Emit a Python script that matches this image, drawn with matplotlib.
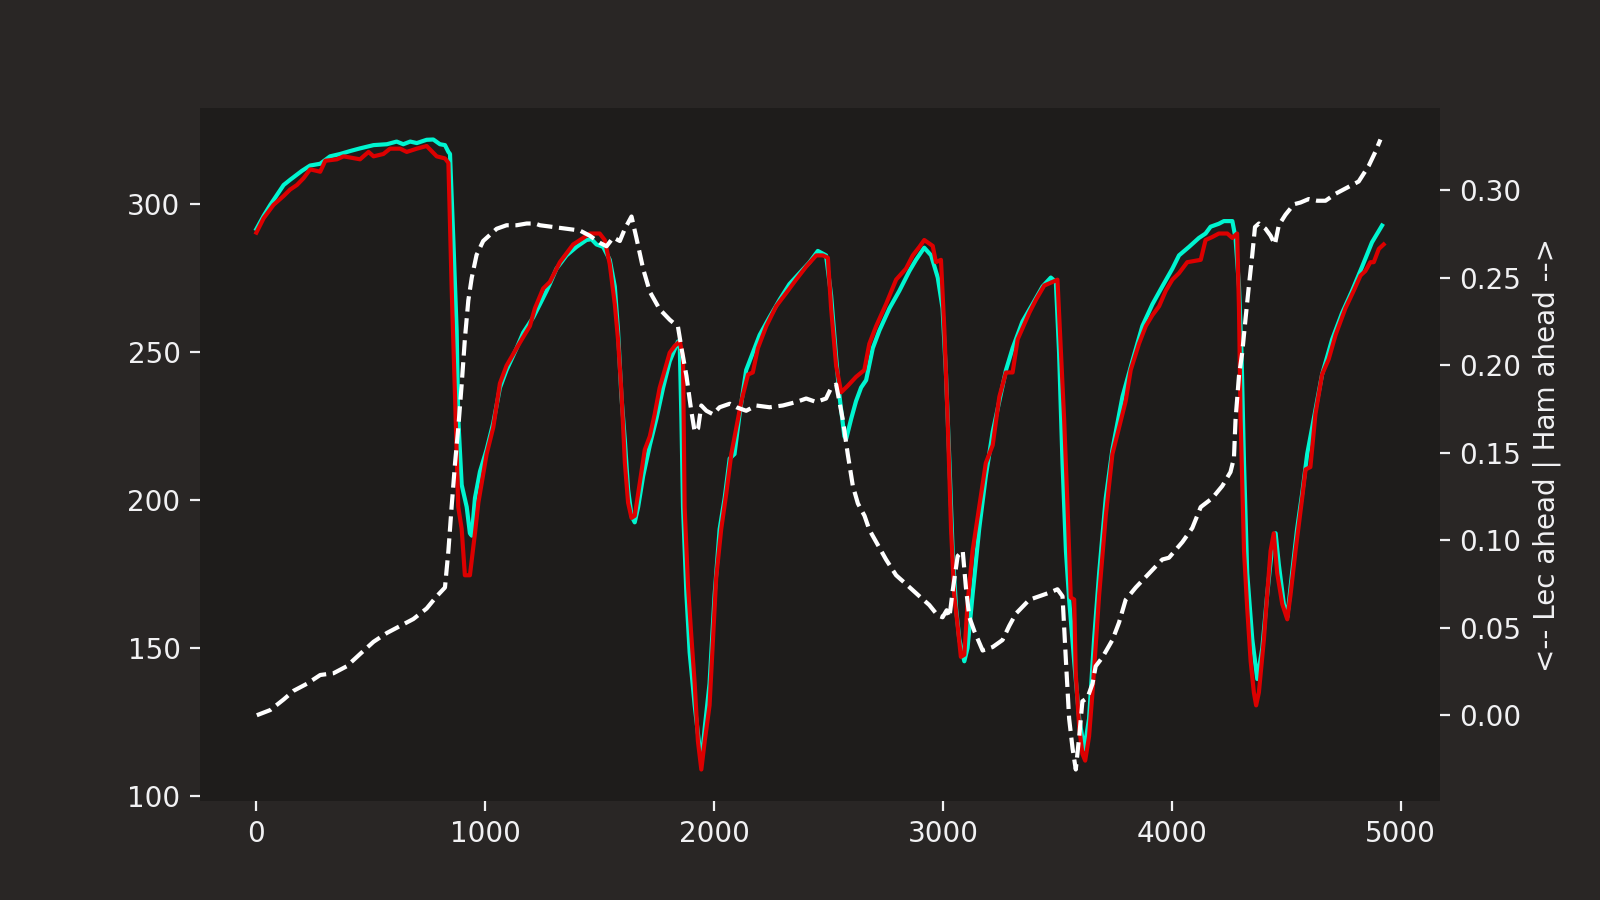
import matplotlib
matplotlib.use('Agg')
import matplotlib.pyplot as plt

# speed traces (distance in m, speed in km/h)
ham_dist = [0, 32, 61, 119, 148, 199, 235, 279, 322, 366, 410, 453, 512, 570, 613, 642, 672, 701,
            744, 773, 802, 824, 839, 846, 861, 875, 882, 897, 919, 933, 941, 955, 977, 1006, 1035,
            1064, 1093, 1137, 1166, 1210, 1239, 1268, 1282, 1311, 1355, 1399, 1442, 1464, 1486,
            1515, 1544, 1566, 1580, 1595, 1610, 1624, 1639, 1653, 1668, 1690, 1719, 1748, 1777,
            1806, 1842, 1850, 1857, 1864, 1879, 1893, 1915, 1937, 1944, 1959, 1980, 2002, 2024,
            2046, 2068, 2089, 2111, 2140, 2169, 2199, 2242, 2286, 2329, 2373, 2417, 2453, 2489,
            2511, 2533, 2548, 2569, 2577, 2599, 2620, 2642, 2664, 2693, 2722, 2766, 2809, 2853,
            2882, 2918, 2948, 2977, 2998, 3013, 3028, 3042, 3057, 3071, 3093, 3107, 3129, 3158,
            3187, 3217, 3246, 3275, 3304, 3347, 3391, 3435, 3471, 3493, 3507, 3522, 3537, 3551,
            3573, 3595, 3617, 3638, 3660, 3682, 3711, 3740, 3784, 3827, 3871, 3915, 3958, 4002,
            4031, 4075, 4118, 4147, 4169, 4205, 4227, 4264, 4278, 4293, 4304, 4315, 4329, 4351,
            4373, 4395, 4416, 4438, 4453, 4467, 4489, 4504, 4525, 4547, 4569, 4591, 4620, 4656,
            4700, 4744, 4787, 4831, 4874, 4918]
ham_speed = [291.6, 296.1, 299.8, 306.5, 308.3, 311.3, 313.1, 313.7, 316.2, 317.0, 318.0, 318.9,
             320.0, 320.3, 321.2, 320.3, 321.2, 320.7, 321.8, 321.9, 320.3, 320.0, 317.7, 317.0,
             287.1, 257.3, 227.5, 205.1, 197.6, 188.7, 187.9, 200.6, 209.6, 217.0, 226.0, 237.9,
             243.9, 251.3, 256.6, 261.8, 266.2, 270.7, 273.0, 278.2, 282.7, 285.6, 287.9, 288.2,
             286.4, 285.6, 281.2, 272.2, 257.3, 234.9, 220.0, 203.6, 194.6, 192.4, 197.6, 208.1,
             218.5, 227.5, 237.9, 246.9, 253.6, 251.3, 227.5, 197.6, 167.8, 148.4, 130.5, 115.6,
             111.1, 123.0, 137.9, 167.8, 190.1, 200.6, 214.0, 215.5, 228.9, 243.9, 249.8, 255.8,
             261.8, 267.7, 273.0, 276.7, 280.4, 284.2, 282.7, 269.2, 248.3, 234.9, 221.5, 220.7,
             227.5, 233.4, 238.0, 240.5, 251.3, 257.3, 264.8, 270.7, 277.4, 281.2, 285.3, 282.7,
             275.2, 264.8, 242.4, 212.5, 182.7, 163.3, 152.9, 145.4, 149.9, 167.8, 190.2, 208.1,
             223.0, 233.4, 243.9, 251.3, 260.3, 266.2, 272.2, 275.2, 273.7, 249.8, 212.5, 182.7,
             166.3, 145.4, 126.0, 115.6, 126.0, 152.9, 175.2, 200.6, 217.0, 234.9, 246.9, 258.8,
             266.2, 272.2, 278.2, 282.7, 285.6, 288.6, 290.1, 292.4, 293.4, 294.3, 294.3, 288.6,
             272.2, 249.8, 212.5, 175.2, 152.9, 139.4, 149.9, 167.8, 184.2, 188.7, 178.2, 164.8,
             160.3, 175.2, 190.2, 202.1, 215.5, 227.5, 242.4, 254.3, 263.3, 270.7, 278.9, 287.1,
             292.8]

lec_dist = [0, 32, 75, 119, 148, 177, 206, 235, 279, 301, 352, 381, 410, 453, 490, 512, 555, 584,
            628, 657, 701, 744, 788, 824, 839, 853, 868, 882, 897, 911, 933, 955, 970, 1006, 1035,
            1064, 1093, 1137, 1166, 1195, 1217, 1253, 1282, 1326, 1384, 1428, 1457, 1500, 1522,
            1544, 1566, 1580, 1595, 1610, 1624, 1639, 1653, 1668, 1697, 1719, 1740, 1762, 1784,
            1806, 1828, 1850, 1864, 1871, 1886, 1900, 1915, 1929, 1944, 1959, 1980, 1995, 2009,
            2031, 2053, 2075, 2097, 2119, 2148, 2169, 2191, 2228, 2271, 2315, 2358, 2402, 2446,
            2475, 2497, 2511, 2533, 2555, 2584, 2620, 2656, 2678, 2708, 2751, 2795, 2838, 2868,
            2897, 2918, 2955, 2969, 2991, 3006, 3020, 3035, 3049, 3064, 3078, 3093, 3107, 3129,
            3158, 3187, 3217, 3246, 3275, 3304, 3326, 3347, 3377, 3406, 3442, 3478, 3500, 3515,
            3529, 3544, 3558, 3573, 3580, 3595, 3609, 3621, 3638, 3653, 3682, 3711, 3740, 3769,
            3798, 3820, 3856, 3886, 3915, 3944, 3973, 4002, 4031, 4067, 4126, 4147, 4176, 4205,
            4242, 4264, 4285, 4293, 4300, 4315, 4329, 4344, 4358, 4368, 4380, 4402, 4416, 4431,
            4445, 4460, 4482, 4504, 4518, 4540, 4569, 4584, 4605, 4627, 4656, 4685, 4715, 4758,
            4794, 4824, 4845, 4867, 4882, 4904, 4925]
lec_speed = [290.4, 295.3, 299.8, 302.8, 305.0, 306.5, 308.8, 311.8, 311.0, 314.7, 315.2, 316.2,
             315.8, 315.2, 317.7, 316.2, 317.0, 318.8, 318.8, 317.7, 318.8, 319.7, 316.2, 315.5,
             314.0, 272.2, 234.9, 197.6, 190.2, 174.5, 174.5, 188.7, 199.1, 215.5, 224.5, 239.4,
             245.4, 251.3, 255.1, 258.8, 264.8, 271.5, 273.7, 280.4, 286.4, 288.6, 290.1, 290.1,
             287.9, 279.7, 266.2, 254.3, 236.4, 212.5, 199.1, 193.9, 194.6, 202.1, 217.0, 221.5,
             228.9, 237.9, 243.9, 249.8, 252.1, 253.6, 248.3, 197.6, 170.8, 154.3, 137.9, 118.5,
             108.8, 118.5, 130.5, 152.9, 173.7, 190.2, 202.1, 215.5, 224.5, 233.4, 242.4, 243.1,
             251.3, 258.8, 265.5, 270.0, 274.5, 278.9, 282.7, 282.7, 281.9, 264.8, 245.4, 236.4,
             238.6, 241.6, 243.9, 252.8, 258.8, 266.2, 274.5, 278.2, 282.7, 285.6, 287.9, 285.9,
             280.4, 281.2, 257.3, 227.5, 190.2, 167.8, 157.3, 146.9, 147.6, 164.8, 182.7, 197.6,
             212.5, 218.5, 234.9, 243.1, 243.1, 254.3, 258.0, 263.3, 267.7, 272.5, 273.7, 274.5,
             249.8, 227.5, 197.6, 167.0, 166.3, 140.9, 123.0, 114.1, 111.8, 120.0, 134.9, 167.8,
             194.6, 215.5, 224.5, 233.4, 243.9, 252.8, 258.8, 262.5, 265.5, 270.7, 274.5, 276.7,
             280.4, 281.2, 287.9, 288.9, 290.1, 290.1, 288.6, 290.1, 264.8, 227.5, 182.7, 163.3,
             145.4, 134.9, 130.5, 134.9, 152.9, 167.8, 182.7, 188.7, 175.2, 164.8, 159.6, 167.8,
             182.7, 200.6, 210.3, 211.1, 229.0, 242.4, 247.6, 255.8, 264.8, 270.7, 275.9, 277.4,
             280.4, 280.4, 284.9, 286.4]

# gap between the two laps (s), positive = Ham ahead
delta_dist = [2, 61, 119, 163, 221, 279, 337, 395, 453, 512, 570, 628, 686, 744, 788, 824, 839,
              853, 868, 882, 897, 911, 926, 941, 962, 991, 1050, 1093, 1137, 1181, 1217, 1239,
              1297, 1355, 1413, 1457, 1500, 1530, 1559, 1588, 1610, 1639, 1660, 1690, 1719, 1762,
              1806, 1842, 1857, 1879, 1900, 1915, 1930, 1944, 1966, 1995, 2024, 2068, 2097, 2140,
              2184, 2242, 2300, 2359, 2402, 2446, 2489, 2511, 2533, 2562, 2584, 2606, 2628, 2657,
              2678, 2708, 2751, 2795, 2838, 2897, 2940, 2977, 2998, 3016, 3028, 3042, 3064, 3086,
              3100, 3115, 3137, 3173, 3217, 3260, 3289, 3318, 3377, 3420, 3464, 3500, 3522, 3537,
              3551, 3566, 3580, 3595, 3609, 3631, 3653, 3667, 3696, 3740, 3769, 3798, 3842, 3900,
              3958, 3987, 4046, 4089, 4126, 4176, 4220, 4256, 4271, 4278, 4293, 4307, 4322, 4336,
              4351, 4363, 4380, 4409, 4431, 4450, 4467, 4496, 4533, 4562, 4598, 4635, 4671, 4715,
              4773, 4816, 4860, 4889, 4911]
delta_time = [0.000, 0.003, 0.009, 0.014, 0.018, 0.023, 0.024, 0.028, 0.035, 0.042, 0.047, 0.051,
              0.055, 0.061, 0.068, 0.073, 0.094, 0.119, 0.144, 0.164, 0.189, 0.215, 0.237, 0.250,
              0.263, 0.271, 0.278, 0.280, 0.280, 0.281, 0.281, 0.280, 0.279, 0.278, 0.277, 0.274,
              0.270, 0.268, 0.273, 0.271, 0.278, 0.285, 0.273, 0.255, 0.242, 0.232, 0.226, 0.222,
              0.210, 0.194, 0.174, 0.162, 0.164, 0.177, 0.174, 0.172, 0.176, 0.178, 0.176, 0.174,
              0.177, 0.176, 0.177, 0.179, 0.181, 0.179, 0.181, 0.187, 0.189, 0.169, 0.149, 0.131,
              0.121, 0.114, 0.106, 0.099, 0.089, 0.080, 0.075, 0.068, 0.063, 0.057, 0.056, 0.060,
              0.056, 0.071, 0.091, 0.094, 0.073, 0.056, 0.048, 0.037, 0.039, 0.043, 0.051, 0.058,
              0.066, 0.068, 0.070, 0.072, 0.068, 0.031, -0.002, -0.019, -0.031, -0.012, 0.008,
              0.010, 0.018, 0.028, 0.033, 0.043, 0.053, 0.066, 0.073, 0.081, 0.089, 0.090, 0.099,
              0.107, 0.119, 0.124, 0.131, 0.139, 0.147, 0.169, 0.194, 0.207, 0.227, 0.245, 0.263,
              0.279, 0.281, 0.278, 0.274, 0.269, 0.280, 0.286, 0.292, 0.293, 0.295, 0.294, 0.294,
              0.298, 0.302, 0.305, 0.314, 0.322, 0.329]

ham_color = '#00f5d0'
lec_color = '#dc0000'

# dark theme like fastf1.plotting.setup_mpl
plt.rcParams['figure.facecolor'] = '#292625'
plt.rcParams['axes.facecolor'] = '#1e1c1b'
plt.rcParams['axes.edgecolor'] = '#2d2928'
plt.rcParams['text.color'] = '#f1f1f3'
plt.rcParams['axes.labelcolor'] = '#f1f1f3'
plt.rcParams['xtick.color'] = '#f1f1f3'
plt.rcParams['ytick.color'] = '#f1f1f3'

fig, ax = plt.subplots(figsize=(8, 4.5), dpi=200)
ax.plot(ham_dist, ham_speed, color=ham_color)
ax.plot(lec_dist, lec_speed, color=lec_color)

twin = ax.twinx()
twin.plot(delta_dist, delta_time, '--', color='white')
twin.set_ylabel("<-- Lec ahead | Ham ahead -->")

for a in (ax, twin):
    for s in a.spines.values():
        s.set_visible(False)

plt.savefig('out.png', dpi=200)
